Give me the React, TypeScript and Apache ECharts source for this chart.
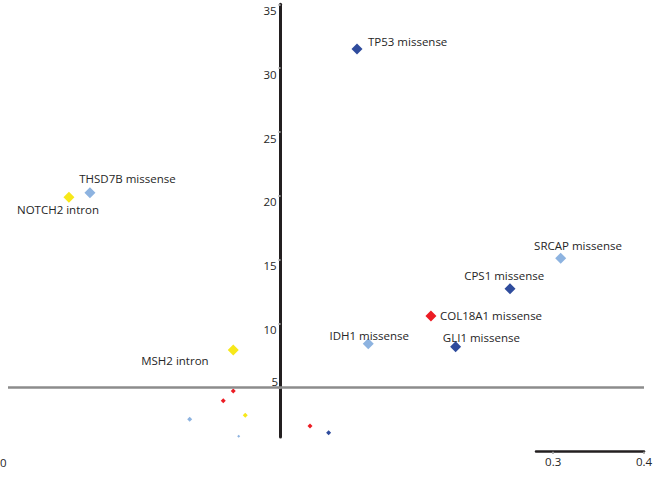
import React, { useEffect, useRef } from "react";
import * as echarts from "echarts";

// Labeled variants
const labeledGenes = [
  "TP53 missense",
  "THSD7B missense",
  "NOTCH2 intron",
  "SRCAP missense",
  "CPS1 missense",
  "COL18A1 missense",
  "IDH1 missense",
  "GLI1 missense",
  "MSH2 intron",
];
const labeledX = [0.0841, -0.2098, -0.2329, 0.3083, 0.2525, 0.1655, 0.0965, 0.1927, -0.0521];
const labeledY = [31.5, 20.26, 19.9, 15.13, 12.75, 10.61, 8.44, 8.21, 7.95];
const labeledGroup = ["dark", "light", "yellow", "light", "dark", "red", "light", "dark", "yellow"];

// Unlabeled small variants
const smallX = [-0.0521, -0.0631, -0.0389, -0.1, -0.0461, 0.0324, 0.0529];
const smallY = [4.74, 3.98, 2.84, 2.53, 1.2, 2.0, 1.48];
const smallGroup = ["red", "red", "yellow", "light", "light", "red", "dark"];

// Axis ticks
const yTickValues = [10, 15, 20, 25, 30, 35];
const xTickValues = [0.3, 0.4];
const thresholdY = 5;

const COLORS: Record<string, string> = {
  dark: "#2f4c9d",
  light: "#8db3e0",
  red: "#ec1c24",
  yellow: "#f7e81a",
};

const labelPos: Record<string, { align: string; offset: number[] }> = {
  "TP53 missense": { align: "left", offset: [11, -8] },
  "THSD7B missense": { align: "center", offset: [37.5, -14.4] },
  "NOTCH2 intron": { align: "center", offset: [-11, 12.7] },
  "SRCAP missense": { align: "center", offset: [17.3, -12.6] },
  "CPS1 missense": { align: "center", offset: [-5.8, -13] },
  "COL18A1 missense": { align: "left", offset: [9, 0] },
  "IDH1 missense": { align: "center", offset: [1, -8.7] },
  "GLI1 missense": { align: "center", offset: [25.7, -9] },
  "MSH2 intron": { align: "right", offset: [-24.6, 11] },
};

const FONT = "'Open Sans', sans-serif";
const TEXT = "#262626";

export default function App() {
  const ref = useRef<HTMLDivElement>(null);
  useEffect(() => {
    if (!ref.current) return;
    const chart = echarts.init(ref.current, undefined, { renderer: "svg" });

    const big = labeledGenes.map((name, i) => ({
      name,
      value: [labeledX[i], labeledY[i]],
      symbolSize: 11,
      itemStyle: { color: COLORS[labeledGroup[i]], opacity: 1 },
      label: {
        show: true,
        formatter: name,
        position: "inside",
        align: labelPos[name].align,
        verticalAlign: "middle",
        offset: labelPos[name].offset,
        color: TEXT,
        fontSize: 11.5,
        fontFamily: FONT,
      },
    }));
    const small = smallX.map((x, i) => ({
      value: [x, smallY[i]],
      symbolSize: smallY[i] < 1.3 ? 3 : 5,
      itemStyle: { color: COLORS[smallGroup[i]], opacity: 1 },
    }));

    const gridLeft = 8;
    const gridRight = 9;
    const xMin = -0.3;
    const xMax = 0.4;
    const plotWidth = 653 - gridLeft - gridRight;
    const zeroOffset = ((0 - xMin) / (xMax - xMin)) * plotWidth;

    chart.setOption({
      animation: false,
      textStyle: { fontFamily: FONT },
      grid: [
        { left: gridLeft, right: gridRight, top: 4.3, bottom: 40, containLabel: false, outerBoundsMode: "none" },
        { left: 536, right: 9, top: 440, bottom: 25.3, containLabel: false, outerBoundsMode: "none" },
      ],
      xAxis: [
        {
          gridIndex: 0,
          type: "value",
          min: xMin,
          max: xMax,
          axisLine: { show: false },
          axisTick: { show: false },
          axisLabel: { show: false },
          splitLine: { show: false },
        },
        {
          gridIndex: 1,
          type: "value",
          min: 0.2811,
          max: 0.4,
          axisLine: { show: true, onZero: false, lineStyle: { color: "#231f20", width: 2.5 } },
          axisTick: { show: true, customValues: xTickValues, length: 2, lineStyle: { color: "#9a9a9a", width: 2 } },
          axisLabel: {
            show: true,
            customValues: xTickValues,
            margin: 4,
            color: TEXT,
            fontSize: 11.5,
            fontFamily: FONT,
            formatter: (v: number) => v.toFixed(1),
          },
          splitLine: { show: false },
        },
      ],
      yAxis: [
        {
          gridIndex: 0,
          type: "value",
          min: 1.14,
          max: 35,
          position: "left",
          offset: -zeroOffset,
          axisLine: { show: true, onZero: false, lineStyle: { color: "#231f20", width: 3 } },
          axisTick: { show: true, customValues: [5, ...yTickValues], length: 2, lineStyle: { color: "#9a9a9a", width: 2 } },
          axisLabel: {
            show: true,
            customValues: yTickValues,
            verticalAlign: "top",
            margin: 4,
            color: TEXT,
            fontSize: 11.5,
            fontFamily: FONT,
          },
          splitLine: { show: false },
        },
        {
          gridIndex: 1,
          type: "value",
          show: false,
        },
      ],
      graphic: [
        {
          type: "text",
          x: 278,
          y: 381,
          style: { text: "5", align: "right", verticalAlign: "middle", fill: TEXT, font: `11.5px ${FONT}` },
        },
        {
          type: "text",
          x: 0,
          y: 462,
          style: { text: "0", align: "left", verticalAlign: "middle", fill: TEXT, font: `11.5px ${FONT}` },
        },
      ],
      series: [
        {
          type: "scatter",
          xAxisIndex: 0,
          yAxisIndex: 0,
          symbol: "diamond",
          data: [...small, ...big],
          markLine: {
            silent: true,
            symbol: "none",
            label: { show: false },
            lineStyle: { color: "#8c8c8c", width: 2.5, type: "solid" },
            data: [{ yAxis: thresholdY }],
          },
        },
      ],
    });
    return () => chart.dispose();
  }, []);

  return (
    <div
      ref={ref}
      style={{ position: "fixed", left: 0, top: 0, width: 653, height: 477, background: "#fff" }}
    />
  );
}
